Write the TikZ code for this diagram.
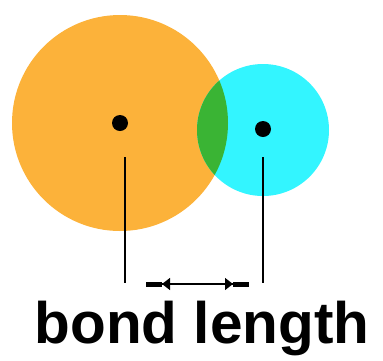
\documentclass[tikz,border=0pt]{standalone}
\usepackage{fontspec}
\setmainfont{Liberation Sans}
\usetikzlibrary{positioning,arrows.meta}

\definecolor{atomorange}{RGB}{252,178,58}
\definecolor{atomcyan}{RGB}{51,245,255}
\definecolor{overlapgreen}{RGB}{58,180,52}

\tikzset{
  nucleus/.style={circle, fill=black, inner sep=0pt, minimum size=16pt},
  guide/.style={line width=1.6pt},
  span/.style={line width=1.2pt, {Triangle[length=8pt,width=12pt]}-{Triangle[length=8pt,width=12pt]}},
}

\begin{document}
\begin{tikzpicture}[x=1pt, y=-1pt]
\useasboundingbox (0,0) rectangle (383,360);

% atoms (manual positions)
\fill[atomorange] (120,123) circle (108);
\fill[atomcyan] (263,130) circle (66);
\begin{scope}
  \clip (120,123) circle (108);
  \fill[overlapgreen] (263,130) circle (66);
\end{scope}

% nodes
\node[nucleus] (leftcore) at (120,123) {};
\node[nucleus] (rightcore) at (263,129) {};
\coordinate (lefttop) at (125,157);
\coordinate (leftbot) at (125,283);
\coordinate (righttop) at (263,157);
\coordinate (rightbot) at (263,283);
\coordinate (arrowl) at (146,284);
\coordinate (arrowr) at (249,284);
\coordinate (tipl) at (162,284);
\coordinate (tipr) at (233,284);
\node[anchor=base, font=\fontsize{58.5}{60}\selectfont\bfseries] (label) at (202,343) {bond length};

% edges
\draw[guide] (lefttop) -- (leftbot);
\draw[guide] (righttop) -- (rightbot);
\draw[line width=1.2pt] (arrowl) -- (arrowr);
\draw[line width=5pt] (arrowl) -- (tipl);
\draw[line width=5pt] (tipr) -- (arrowr);
\draw[span] (tipl) -- (tipr);

\end{tikzpicture}
\end{document}
